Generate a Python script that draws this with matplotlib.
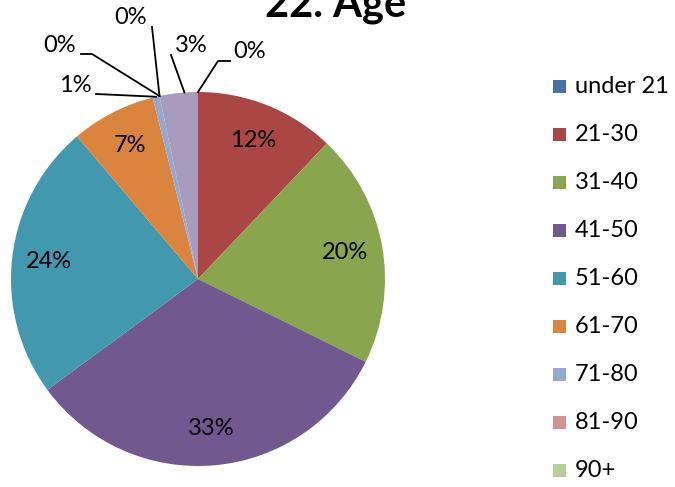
import matplotlib.pyplot as plt
import numpy as np
from matplotlib.patches import Rectangle

plt.rcParams['font.family'] = ['Lato', 'DejaVu Sans']

age_groups = ["under 21", "21-30", "31-40", "41-50", "51-60",
              "61-70", "71-80", "81-90", "90+", "no answer"]
shares = [0.0, 12.1, 20.2, 32.6, 23.9, 7.3, 0.6, 0.0, 0.0, 3.3]
colours = ["#4672A8", "#AA4744", "#89A54E", "#71588F", "#4198AF",
           "#DB843D", "#93A9CF", "#D19392", "#B9CD96", "#A99BBD"]

W, H = 675, 487
fig = plt.figure(figsize=(W / 100, H / 100), dpi=100)

# pie centre (198, 279) px, radius 187 px
cx, cy, r = 198, 279, 187
ax = fig.add_axes([(cx - r) / W, (H - cy - r) / H, 2 * r / W, 2 * r / H])
wedges, _ = ax.pie(shares, colors=colours, startangle=90, counterclock=False,
                   radius=1, wedgeprops=dict(linewidth=0))
ax.set_xlim(-1, 1)
ax.set_ylim(-1, 1)
ax.set_aspect('equal')
ax.axis('off')


def px(x, y):
    return (x - cx) / r, (cy - y) / r


# outside labels for the thin slices: (text centre, leader elbow points) in px
outside = {
    0: ((250, 52), [(218, 61), (230, 61)]),
    9: ((191, 46), [(171, 55)]),
    8: ((131, 18), [(152, 27)]),
    7: ((60, 46), [(92, 54), (81, 54)]),
    6: ((75, 86), [(96, 94)]),
}

for i, w in enumerate(wedges):
    pct = "%.0f%%" % shares[i]
    if i in outside:
        (tx, ty), pts = outside[i]
        if i == 9:
            a = np.deg2rad(w.theta1 + 0.35 * (w.theta2 - w.theta1))
        else:
            a = np.deg2rad((w.theta1 + w.theta2) / 2)
        x0, y0 = np.cos(a), np.sin(a)
        xs = [x0] + [px(*p)[0] for p in pts]
        ys = [y0] + [px(*p)[1] for p in pts]
        ax.plot(xs, ys, color="black", lw=1.3, clip_on=False)
        ax.text(*px(tx, ty), pct, ha="center", va="center", fontsize=17)
    else:
        a = np.deg2rad((w.theta1 + w.theta2) / 2)
        ax.text(0.8 * np.cos(a), 0.8 * np.sin(a), pct,
                ha="center", va="center", fontsize=17)

# title is cropped at the top edge, as in the original
fig.text(336 / W, 1 - 17 / H, "22. Age", ha="center", va="baseline",
         fontsize=30, fontweight="bold")

# legend (first nine entries fit in the frame)
for k in range(9):
    yc = 86 + k * 48.1
    fig.add_artist(Rectangle((553 / W, 1 - (yc + 6.5) / H), 13 / W, 13 / H,
                             transform=fig.transFigure, color=colours[k], lw=0))
    fig.text(575 / W, 1 - yc / H, age_groups[k], ha="left", va="center",
             fontsize=17)

fig.savefig("out.png", dpi=100)
